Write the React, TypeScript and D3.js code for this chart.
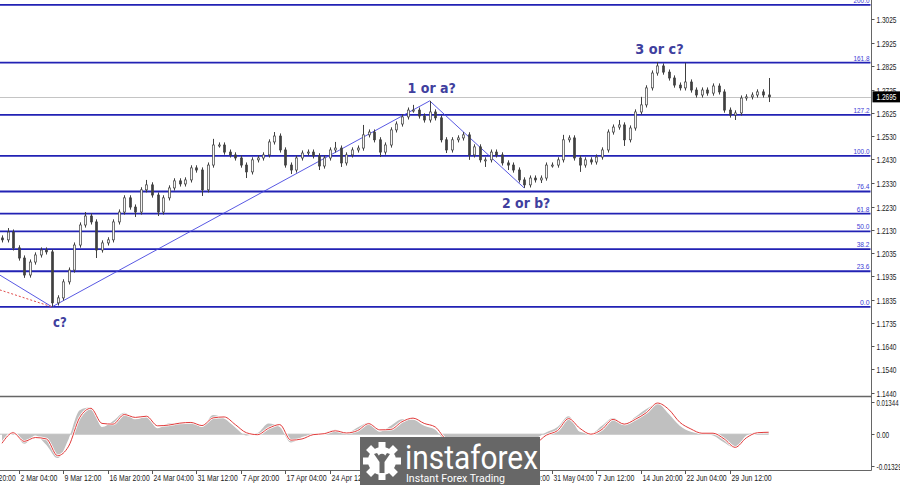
import React, { useEffect, useRef } from 'react';
import * as d3 from 'd3';

// H4 closes, one per bar
const closes = [
  1.2089, 1.2122, 1.2055, 1.2012, 1.1940, 1.1995, 1.2025, 1.2046, 1.2038, 1.1822,
  1.1843, 1.1911, 1.1961, 1.2067, 1.2152, 1.2190, 1.2165, 1.2046, 1.2076, 1.2089,
  1.2165, 1.2207, 1.2267, 1.2228, 1.2207, 1.2301, 1.2322, 1.2279, 1.2207, 1.2267,
  1.2309, 1.2339, 1.2326, 1.2343, 1.2394, 1.2385, 1.2301, 1.2406, 1.2491, 1.2491,
  1.2461, 1.2449, 1.2436, 1.2406, 1.2377, 1.2428, 1.2436, 1.2449, 1.2504, 1.2529,
  1.2470, 1.2406, 1.2385, 1.2436, 1.2457, 1.2461, 1.2445, 1.2402, 1.2436, 1.2470,
  1.2478, 1.2415, 1.2449, 1.2470, 1.2478, 1.2534, 1.2546, 1.2513, 1.2461, 1.2491,
  1.2555, 1.2580, 1.2610, 1.2639, 1.2639, 1.2614, 1.2597, 1.2631, 1.2606, 1.2513,
  1.2470, 1.2513, 1.2521, 1.2534, 1.2449, 1.2483, 1.2428, 1.2428, 1.2461, 1.2449,
  1.2415, 1.2406, 1.2385, 1.2343, 1.2322, 1.2351, 1.2343, 1.2351, 1.2406, 1.2406,
  1.2428, 1.2513, 1.2521, 1.2436, 1.2406, 1.2428, 1.2419, 1.2440, 1.2470, 1.2546,
  1.2567, 1.2576, 1.2513, 1.2563, 1.2631, 1.2661, 1.2733, 1.2796, 1.2826, 1.2800,
  1.2775, 1.2745, 1.2733, 1.2758, 1.2724, 1.2703, 1.2724, 1.2711, 1.2741, 1.2716,
  1.2639, 1.2618, 1.2627, 1.2690, 1.2695, 1.2703, 1.2716, 1.2703, 1.2695,
];

// notable wicks: [bar, price]
const wickHighs: [number, number][] = [
  [1, 1.2139], [15, 1.2207], [26, 1.2343], [38, 1.2517], [49, 1.2546], [60, 1.2504],
  [65, 1.2576], [74, 1.2661], [77, 1.2678], [83, 1.2546], [101, 1.2534], [111, 1.2597],
  [115, 1.2695], [118, 1.2843], [123, 1.2839], [138, 1.2775],
];
const wickLows: [number, number][] = [
  [4, 1.1928], [9, 1.1805], [17, 1.2012], [24, 1.2186], [28, 1.2190], [36, 1.2275],
  [44, 1.2351], [52, 1.2368], [57, 1.2385], [61, 1.2398], [68, 1.2440], [80, 1.2457],
  [84, 1.2428], [87, 1.2398], [91, 1.2385], [94, 1.2309], [97, 1.2330], [104, 1.2377],
  [112, 1.2487], [132, 1.2597], [138, 1.2673],
];

const lastPrice = 1.2695;

const fibLow = 1.1805;
const fibHigh = 1.2445;
const fibRatios = [0, 23.6, 38.2, 50, 61.8, 76.4, 100, 127.2, 161.8, 200];

const priceTicks = [
  1.3025, 1.2925, 1.2825, 1.2725, 1.2625, 1.2530, 1.2430, 1.2330, 1.2230,
  1.2130, 1.2035, 1.1935, 1.1835, 1.1735, 1.1640, 1.1540, 1.1440,
];

// labels whose text is fully under the logo are left out
const timeLabels = [
  '21 Feb 20:00', '2 Mar 04:00', '9 Mar 12:00', '16 Mar 20:00', '24 Mar 04:00',
  '31 Mar 12:00', '7 Apr 20:00', '17 Apr 04:00', '24 Apr 12:00', '25 May 20:00',
  '31 May 04:00', '7 Jun 12:00', '14 Jun 20:00', '22 Jun 04:00', '29 Jun 12:00',
];
const timeLabelBars = [-5, 3, 11, 19, 27, 35, 43, 51, 59, 91, 99, 107, 115, 123, 131];

// oscillator, sampled every 2 bars
const oscHist = [
  -0.0030, 0.0010, -0.0040, -0.0005, -0.0045, -0.0100, -0.0020, 0.0100, 0.0112, 0.0030,
  0.0055, 0.0090, 0.0062, 0.0072, 0.0025, 0.0045, 0.0048, 0.0050, 0.0030, 0.0080,
  0.0065, 0.0028, -0.0005, 0.0005, 0.0045, 0.0030, -0.0035, -0.0012, 0.0000, 0.0005,
  0.0018, 0.0004, 0.0028, 0.0048, 0.0010, 0.0035, 0.0062, 0.0060, 0.0035, 0.0018,
  -0.0030, -0.0028, -0.0026, -0.0028, -0.0027, -0.0028, -0.0029, -0.0028, -0.0018, 0.0008,
  0.0030, 0.0075, 0.0010, 0.0002, 0.0035, 0.0068, 0.0040, 0.0072, 0.0105, 0.0128,
  0.0085, 0.0035, 0.0010, 0.0002, -0.0005, -0.0035, -0.0058, -0.0005, 0.0008, 0.0010,
];
const oscSignal = [
  -0.0038, 0.0006, -0.0030, -0.0014, -0.0020, -0.0090, -0.0050, 0.0070, 0.0108, 0.0045,
  0.0042, 0.0082, 0.0070, 0.0075, 0.0035, 0.0038, 0.0046, 0.0049, 0.0036, 0.0068,
  0.0072, 0.0040, 0.0006, -0.0002, 0.0025, 0.0040, -0.0025, -0.0020, -0.0002, 0.0002,
  0.0014, 0.0005, 0.0015, 0.0044, 0.0018, 0.0020, 0.0052, 0.0067, 0.0045, 0.0030,
  -0.0022, -0.0034, -0.0036, -0.0037, -0.0037, -0.0038, -0.0038, -0.0039, -0.0036, -0.0004,
  0.0015, 0.0065, 0.0025, 0.0000, 0.0020, 0.0062, 0.0042, 0.0062, 0.0090, 0.0130,
  0.0104, 0.0050, 0.0022, 0.0004, 0.0004, -0.0020, -0.0055, -0.0015, 0.0006, 0.0008,
];
const oscTicks = [0.01344, 0, -0.01329];
const oscTickLabels = ['0.01344', '0.00', '-0.01329'];

const waves = [
  { text: 'c?', bar: 9, price: 1.1805, above: false },
  { text: '1 or a?', bar: 77, price: 1.2678, above: true },
  { text: '2 or b?', bar: 94, price: 1.2309, above: false },
  { text: '3 or c?', bar: 118, price: 1.2843, above: true },
];
const waveLine: [number, number][] = [[9, 1.1805], [77, 1.2678], [94, 1.2309]];
const leftBlue: [number, number][] = [[-0.4, 1.1940], [9, 1.1805]];
const leftRed: [number, number][] = [[-0.4, 1.1877], [9, 1.1805]];

const W = 900;
const H = 485;
const AXIS_X = 871.5;
const FONT = '"Liberation Sans", Arial, sans-serif';

export default function App() {
  const svgRef = useRef<SVGSVGElement | null>(null);

  useEffect(() => {
    const svg = d3.select(svgRef.current);
    svg.selectAll('*').remove();

    const x = d3.scaleLinear().domain([0, 138]).range([2, 768.6]);
    const y = d3.scaleLinear().domain([1.1440, 1.3025]).range([393, 19]);
    const oy = d3.scaleLinear().domain([-0.01329, 0.01344]).range([466, 402]);

    svg.append('rect').attr('width', W).attr('height', H).attr('fill', '#fff');

    const defs = svg.append('defs');
    defs.append('clipPath').attr('id', 'mainClip')
      .append('rect').attr('x', 0).attr('y', 0).attr('width', AXIS_X).attr('height', 396);
    defs.append('clipPath').attr('id', 'oscClip')
      .append('rect').attr('x', 0).attr('y', 398).attr('width', AXIS_X).attr('height', 72);

    const main = svg.append('g').attr('clip-path', 'url(#mainClip)');

    // current price line
    main.append('line')
      .attr('x1', 0).attr('x2', AXIS_X)
      .attr('y1', Math.round(y(lastPrice)) + 0.5).attr('y2', Math.round(y(lastPrice)) + 0.5)
      .attr('stroke', '#c4c4c4');

    // fibonacci levels
    const fibPrice = (r: number) => fibLow + (r / 100) * (fibHigh - fibLow);
    fibRatios.forEach(r => {
      const yy = y(fibPrice(r));
      main.append('line')
        .attr('x1', 0).attr('x2', AXIS_X - 1)
        .attr('y1', yy).attr('y2', yy)
        .attr('stroke', '#2222b4').attr('stroke-width', 1.8);
      const label = r.toFixed(1);
      main.append('text')
        .attr('x', AXIS_X - 2).attr('y', yy - 2)
        .attr('text-anchor', 'end')
        .attr('font-family', FONT).attr('font-size', 8)
        .attr('fill', '#3b3bd6')
        .attr('textLength', label.length * 3.2).attr('lengthAdjust', 'spacingAndGlyphs')
        .text(label);
    });

    // wave lines
    const line = d3.line<[number, number]>().x(d => x(d[0])).y(d => y(d[1]));
    main.append('path').datum(waveLine).attr('d', line)
      .attr('fill', 'none').attr('stroke', '#4646e0').attr('stroke-width', 0.9);
    main.append('path').datum(leftBlue).attr('d', line)
      .attr('fill', 'none').attr('stroke', '#4646e0').attr('stroke-width', 0.9);
    main.append('path').datum(leftRed).attr('d', line)
      .attr('fill', 'none').attr('stroke', '#e04848').attr('stroke-width', 1)
      .attr('stroke-dasharray', '2,2');

    // candles
    const hiMap = new Map(wickHighs);
    const loMap = new Map(wickLows);
    const wickPad = 0.0011;
    const candles = closes.map((c, i) => {
      const o = i === 0 ? c + 0.0008 : closes[i - 1];
      const hi = hiMap.get(i) ?? Math.max(o, c) + wickPad;
      const lo = loMap.get(i) ?? Math.min(o, c) - wickPad;
      return { i, o, c, hi, lo };
    });
    const cg = main.append('g');
    cg.selectAll('line.wick').data(candles).enter().append('line')
      .attr('class', 'wick')
      .attr('x1', d => Math.round(x(d.i)) + 0.5).attr('x2', d => Math.round(x(d.i)) + 0.5)
      .attr('y1', d => y(d.hi)).attr('y2', d => y(d.lo))
      .attr('stroke', '#404040').attr('stroke-width', 1);
    cg.selectAll('rect.body').data(candles).enter().append('rect')
      .attr('class', 'body')
      .attr('x', d => Math.round(x(d.i)) - 0.5)
      .attr('width', 2)
      .attr('y', d => y(Math.max(d.o, d.c)))
      .attr('height', d => Math.max(1, Math.abs(y(d.o) - y(d.c))))
      .attr('fill', d => (d.c >= d.o ? '#f4f4f4' : '#404040'))
      .attr('stroke', '#404040').attr('stroke-width', 0.7);

    // wave labels
    waves.forEach(w => {
      main.append('text')
        .attr('x', x(w.bar) + (w.text === 'c?' ? 8 : 2))
        .attr('y', w.above ? y(w.price) - 8 : y(w.price) + 20)
        .attr('text-anchor', 'middle')
        .attr('font-family', '"DejaVu Sans", Verdana, sans-serif')
        .attr('font-size', 14).attr('font-weight', 'bold')
        .attr('fill', '#40409e')
        .attr('textLength', w.text.length * 6.9).attr('lengthAdjust', 'spacingAndGlyphs')
        .text(w.text);
    });

    // oscillator
    const osc = svg.append('g').attr('clip-path', 'url(#oscClip)');
    const histPts = oscHist.map((v, k) => ({ i: k * 2, v }));
    const sigPts = oscSignal.map((v, k) => ({ i: k * 2, v }));
    osc.append('path').datum(histPts)
      .attr('d', d3.area<{ i: number; v: number }>()
        .x(d => x(d.i)).y0(oy(0)).y1(d => oy(d.v)).curve(d3.curveMonotoneX))
      .attr('fill', '#c0c0c0');
    osc.append('line')
      .attr('x1', 0).attr('x2', x(138)).attr('y1', oy(0)).attr('y2', oy(0))
      .attr('stroke', '#c0c0c0').attr('stroke-width', 1);
    const sigLine = d3.line<{ i: number; v: number }>()
      .x(d => x(d.i)).y(d => oy(d.v)).curve(d3.curveMonotoneX);
    osc.append('path').datum(sigPts).attr('d', sigLine)
      .attr('fill', 'none').attr('stroke', '#fff').attr('stroke-width', 2.4);
    osc.append('path').datum(sigPts).attr('d', sigLine)
      .attr('fill', 'none').attr('stroke', '#e03a3a').attr('stroke-width', 1);

    // frame
    const frame = svg.append('g').attr('stroke', '#666');
    frame.append('line').attr('x1', AXIS_X).attr('x2', AXIS_X).attr('y1', 0).attr('y2', 470.5);
    frame.append('line').attr('x1', 0).attr('x2', AXIS_X).attr('y1', 396.5).attr('y2', 396.5)
      .attr('stroke-width', 1.5);
    frame.append('line').attr('x1', 0).attr('x2', AXIS_X).attr('y1', 470.5).attr('y2', 470.5);

    // price axis
    const pa = svg.append('g');
    priceTicks.forEach(p => {
      const yy = Math.round(y(p)) + 0.5;
      pa.append('line').attr('x1', AXIS_X).attr('x2', AXIS_X + 3).attr('y1', yy).attr('y2', yy)
        .attr('stroke', '#555');
      pa.append('text').attr('x', AXIS_X + 5).attr('y', yy + 3)
        .attr('font-family', FONT).attr('font-size', 8.5).attr('fill', '#222')
        .attr('textLength', 20).attr('lengthAdjust', 'spacingAndGlyphs')
        .text(p.toFixed(4));
    });
    const ly = y(lastPrice);
    pa.append('rect').attr('x', AXIS_X + 1).attr('y', ly - 5.5).attr('width', W - AXIS_X - 1).attr('height', 11)
      .attr('fill', '#000');
    pa.append('text').attr('x', AXIS_X + 5).attr('y', ly + 3)
      .attr('font-family', FONT).attr('font-size', 8.5).attr('fill', '#fff')
      .attr('textLength', 20).attr('lengthAdjust', 'spacingAndGlyphs')
      .text(lastPrice.toFixed(4));

    // oscillator axis
    oscTicks.forEach((v, k) => {
      const yy = Math.round(oy(v)) + 0.5;
      pa.append('line').attr('x1', AXIS_X).attr('x2', AXIS_X + 3).attr('y1', yy).attr('y2', yy)
        .attr('stroke', '#555');
      const t = oscTickLabels[k];
      pa.append('text').attr('x', AXIS_X + 5).attr('y', yy + 3)
        .attr('font-family', FONT).attr('font-size', 8.5).attr('fill', '#222')
        .attr('textLength', t.length * 3.15).attr('lengthAdjust', 'spacingAndGlyphs')
        .text(t);
    });

    // time axis
    timeLabels.forEach((t, k) => {
      const xx = Math.round(x(timeLabelBars[k])) + 0.5;
      pa.append('line').attr('x1', xx).attr('x2', xx).attr('y1', 470.5).attr('y2', 474)
        .attr('stroke', '#555');
      pa.append('text').attr('x', xx + 1).attr('y', 481)
        .attr('font-family', FONT).attr('font-size', 8.5).attr('fill', '#222')
        .attr('textLength', t.length * 3.35).attr('lengthAdjust', 'spacingAndGlyphs')
        .text(t);
    });

    // logo
    const logo = svg.append('g');
    logo.append('rect').attr('x', 360).attr('y', 437).attr('width', 180).attr('height', 50)
      .attr('fill', '#676767');
    const gx = 382, gy = 461;
    const gear = logo.append('g').attr('fill', '#fff');
    d3.range(8).forEach(k => {
      gear.append('rect').attr('x', gx - 3.5).attr('y', gy - 19).attr('width', 7).attr('height', 8)
        .attr('transform', `rotate(${k * 45},${gx},${gy})`);
    });
    gear.append('circle').attr('cx', gx).attr('cy', gy).attr('r', 14);
    logo.append('circle').attr('cx', gx).attr('cy', gy - 4).attr('r', 3.2).attr('fill', '#676767');
    logo.append('path')
      .attr('d', `M${gx - 8},${gy - 7} L${gx - 2.5},${gy + 1} L${gx - 2.5},${gy + 12} L${gx + 2.5},${gy + 12} L${gx + 2.5},${gy + 1} L${gx + 8},${gy - 7} L${gx + 5},${gy - 8} L${gx},${gy - 1} L${gx - 5},${gy - 8} Z`)
      .attr('fill', '#676767');
    logo.append('text').attr('x', 405).attr('y', 469)
      .attr('font-family', 'Roboto, "Open Sans", sans-serif').attr('font-size', 34)
      .attr('fill', '#fff')
      .attr('textLength', 133).attr('lengthAdjust', 'spacingAndGlyphs')
      .text('instaforex');
    logo.append('text').attr('x', 406).attr('y', 482)
      .attr('font-family', 'Roboto, "Open Sans", sans-serif').attr('font-size', 11)
      .attr('fill', '#fff')
      .attr('textLength', 99).attr('lengthAdjust', 'spacingAndGlyphs')
      .text('Instant Forex Trading');
  }, []);

  return (
    <div style={{ position: 'fixed', left: 0, top: 0, width: W, height: H, overflow: 'hidden' }}>
      <svg ref={svgRef} width={W} height={H} style={{ display: 'block' }} />
    </div>
  );
}
